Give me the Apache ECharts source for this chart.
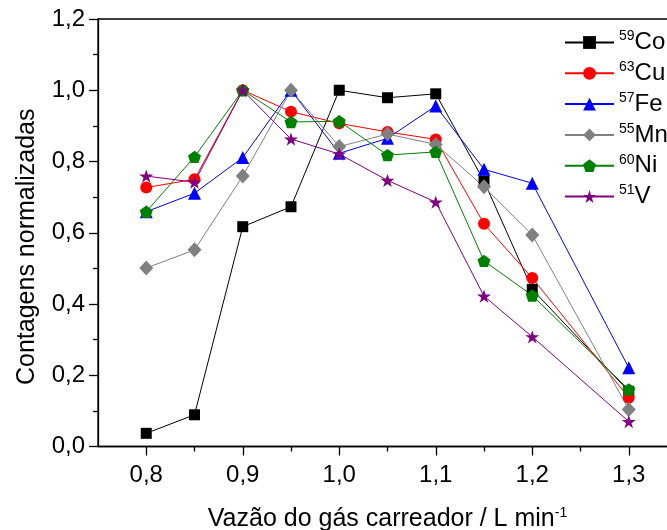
<!DOCTYPE html>
<html>
<head>
<meta charset="utf-8">
<script src="https://cdn.jsdelivr.net/npm/echarts@6/dist/echarts.min.js"></script>
<style>
html,body{margin:0;padding:0;background:#fff;}
#chart{width:667px;height:530px;}
</style>
</head>
<body>
<div id="chart"></div>
<script>
var flowRates = [0.8, 0.85, 0.9, 0.95, 1.0, 1.05, 1.1, 1.15, 1.2, 1.3];
var co59 = [0.037, 0.089, 0.617, 0.673, 1.0, 0.979, 0.990, 0.745, 0.441, 0.155];
var cu63 = [0.727, 0.750, 1.0, 0.940, 0.907, 0.883, 0.862, 0.625, 0.473, 0.137];
var fe57 = [0.659, 0.711, 0.811, 1.0, 0.823, 0.865, 0.956, 0.778, 0.739, 0.221];
var mn55 = [0.501, 0.552, 0.759, 1.0, 0.842, 0.877, 0.848, 0.729, 0.594, 0.104];
var ni60 = [0.659, 0.813, 1.0, 0.911, 0.913, 0.818, 0.827, 0.521, 0.424, 0.160];
var v51 = [0.759, 0.742, 1.0, 0.863, 0.821, 0.747, 0.686, 0.422, 0.308, 0.070];
var xMajorTicks = [0.8, 0.9, 1.0, 1.1, 1.2, 1.3];
var xMinorTicks = [0.85, 0.95, 1.05, 1.15, 1.25];
var seriesNames = ['Co', 'Cu', 'Fe', 'Mn', 'Ni', 'V'];
var massNumbers = {Co: '59', Cu: '63', Fe: '57', Mn: '55', Ni: '60', V: '51'};

var FONT = 'Liberation Sans, Arial, sans-serif';
var pentagon = 'path://M50 0 L97.55 34.55 L79.39 90.45 L20.61 90.45 L2.45 34.55 Z';
var star = 'path://M50 0 L61.23 34.55 L97.55 34.55 L68.17 55.90 L79.39 90.45 L50 69.1 L20.61 90.45 L31.83 55.90 L2.45 34.55 L38.77 34.55 Z';

function pairs(arr) {
  return flowRates.map(function (x, i) { return [x, arr[i]]; });
}
function mk(name, arr, color, symbol, size) {
  return {
    name: name, type: 'line', data: pairs(arr),
    symbol: symbol, symbolSize: size,
    itemStyle: {color: color},
    lineStyle: {color: color, width: 1},
    emphasis: {disabled: true},
    animation: false
  };
}
function fmt(v) { return v.toFixed(1).replace('.', ','); }

var chart = echarts.init(document.getElementById('chart'), null, {renderer: 'canvas'});
chart.setOption({
  backgroundColor: '#fff',
  animation: false,
  grid: {left: 98, top: 19, right: -10, bottom: 83.5, outerBoundsMode: 'none', containLabel: false,
         show: true, borderColor: '#000', borderWidth: 1.3, backgroundColor: 'transparent'},
  legend: {
    orient: 'vertical', left: 564, top: 29.5, padding: 0, itemWidth: 49, itemHeight: 16, itemGap: 5.8,
    data: seriesNames,
    formatter: function (n) { return '{s|' + massNumbers[n] + '}{b|' + n + '}'; },
    textStyle: {
      color: '#000', fontFamily: FONT,
      rich: {
        s: {fontSize: 14, fontFamily: FONT, color: '#000', verticalAlign: 'top', lineHeight: 14},
        b: {fontSize: 24, fontFamily: FONT, color: '#000', lineHeight: 26}
      }
    }
  },
  xAxis: [{
    type: 'value', min: 0.75, max: 1.35, splitNumber: 6,
    axisLine: {show: true, onZero: false, lineStyle: {color: '#000', width: 1.3}},
    axisTick: {show: true, inside: false, length: 9, lineStyle: {color: '#000', width: 1.3}, customValues: xMajorTicks},
    axisLabel: {fontSize: 24, fontFamily: FONT, color: '#000', margin: 17, customValues: xMajorTicks, formatter: fmt},
    splitLine: {show: false},
    name: '{a|Vazão do gás carreador / L min}{s|-1}',
    nameLocation: 'middle', nameGap: 60,
    nameTextStyle: {
      rich: {
        a: {fontSize: 25, fontFamily: FONT, color: '#000', lineHeight: 26},
        s: {fontSize: 14, fontFamily: FONT, color: '#000', verticalAlign: 'top', lineHeight: 14}
      }
    }
  }, {
    type: 'value', min: 0.75, max: 1.35, position: 'bottom',
    axisLine: {show: false, onZero: false},
    axisTick: {show: true, inside: false, length: 5, lineStyle: {color: '#000', width: 1.3}, customValues: xMinorTicks},
    axisLabel: {show: false},
    splitLine: {show: false}
  }],
  yAxis: {
    type: 'value', min: 0, max: 1.2, interval: 0.2,
    axisLine: {show: true, lineStyle: {color: '#000', width: 1.3}},
    axisTick: {show: true, inside: false, length: 9, lineStyle: {color: '#000', width: 1.3}},
    minorTick: {show: true, splitNumber: 2, length: 5, lineStyle: {color: '#000', width: 1.3}},
    axisLabel: {fontSize: 24, fontFamily: FONT, color: '#000', margin: 13, formatter: fmt},
    splitLine: {show: false},
    name: 'Contagens normalizadas',
    nameLocation: 'middle', nameGap: 58,
    nameTextStyle: {fontSize: 25, fontFamily: FONT, color: '#000', padding: [0, 28, 0, 0]}
  },
  series: [
    mk('Co', co59, '#000000', 'rect', 11),
    mk('Cu', cu63, '#ff0000', 'circle', 12),
    mk('Fe', fe57, '#0000ff', 'triangle', 13),
    mk('Mn', mn55, '#808080', 'diamond', [14, 15]),
    mk('Ni', ni60, '#008000', pentagon, [13, 12.4]),
    mk('V', v51, '#800080', star, [14, 13.3])
  ]
});
</script>
</body>
</html>
